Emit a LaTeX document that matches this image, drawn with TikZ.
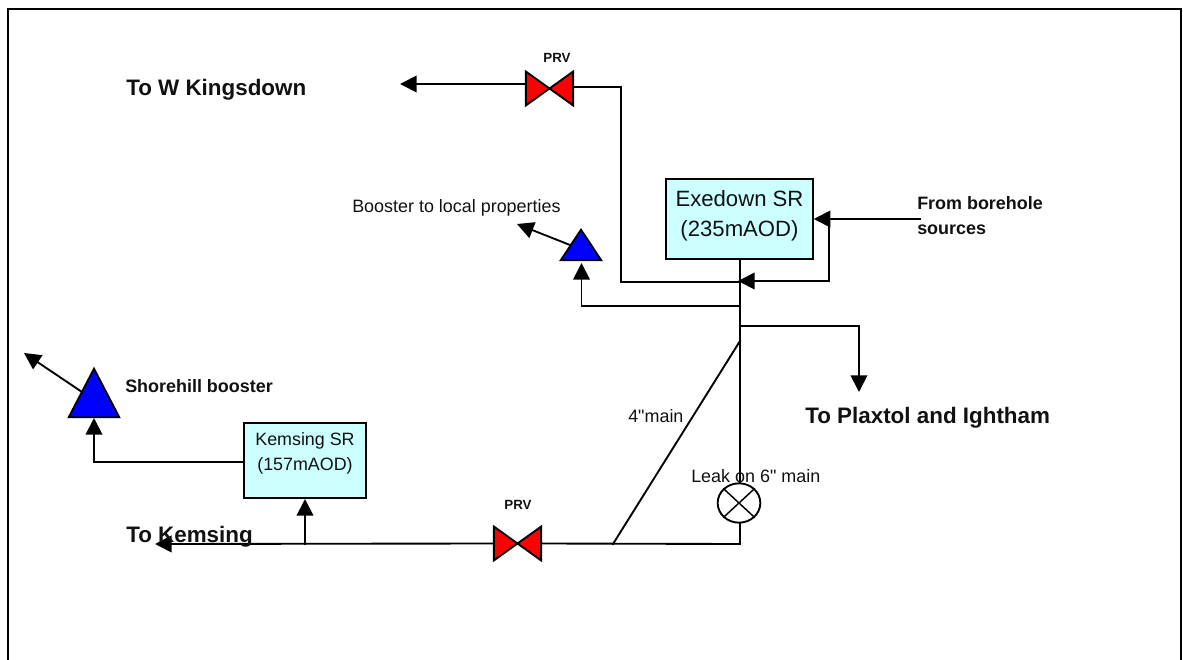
\documentclass[tikz,border=0pt]{standalone}
\usepackage{fontspec}
\setmainfont{Liberation Sans}[Ligatures=TeXOff]
\usetikzlibrary{arrows.meta,shapes.geometric}
\usepackage{xcolor}
\definecolor{tank}{HTML}{CCFFFF}
\definecolor{prv}{HTML}{FF0000}
\definecolor{booster}{HTML}{0000FF}
\definecolor{ink}{HTML}{111111}
\tikzset{
	pipe/.style={line width=1.4pt,line cap=rect,line join=miter},
	flow/.style={pipe,-{Triangle[length=12.5pt,width=12.5pt]}},
	tankbox/.style={draw,fill=tank,line width=1.4pt,inner sep=0pt,align=center,text=ink},
	valvebox/.style={inner sep=0pt,minimum width=35pt,minimum height=25pt},
	pumpbox/.style={inner sep=0pt},
	boldlabel/.style={inner sep=0pt,anchor=west,text=ink,font=\bfseries\fontsize{16.8}{20}\selectfont},
	thinlabel/.style={inner sep=0pt,anchor=west,text=ink,font=\fontsize{13.45}{16}\selectfont},
	prvlabel/.style={inner sep=0pt,text=ink,font=\bfseries\fontsize{10}{12}\selectfont},
}
\begin{document}
\begin{tikzpicture}[x=0.75pt,y=-0.75pt]
		\useasboundingbox (0,0) rectangle (1183,660);
		%
		% frame
		\draw[line width=2pt] (8,660) -- (8,9) -- (1181,9) -- (1181,660);
		%
		% reservoirs
		\node[tankbox,minimum width=110pt,minimum height=60pt,font=\fontsize{16.6}{22.5}\selectfont] (exedown) at (739.5,219) {Exedown SR\\(235mAOD)\\[-13.5pt]\mbox{}};
		\node[tankbox,minimum width=91.5pt,minimum height=56pt,font=\fontsize{13.4}{18.7}\selectfont] (kemsing) at (305,460.5) {Kemsing SR\\(157mAOD)\\[-5.2pt]\mbox{}};
		%
		% valves, boosters and the leak
		\node[valvebox] (prvW) at (549.5,88.5) {};
		\node[valvebox] (prvK) at (517.5,543.5) {};
		\node[pumpbox,minimum width=30pt,minimum height=22.5pt] (localpump) at (581,245) {};
		\node[pumpbox,minimum width=37.5pt,minimum height=36pt] (shorepump) at (94,393) {};
		\node[draw,ellipse,line width=1.4pt,inner sep=0pt,minimum width=32pt,minimum height=29.5pt] (leak) at (739,503) {};
		\draw[line width=1.1pt] (leak.north west) -- (leak.south east) (leak.north east) -- (leak.south west);
		\foreach \v in {prvW,prvK}
		{
			\draw[line width=1.4pt,fill=prv,line join=miter] (\v.north west) -- (\v.south east) -- (\v.north east) -- (\v.south west) -- cycle;
		}
		\foreach \p in {localpump,shorepump}
		{
			\draw[line width=1.4pt,fill=booster,line join=miter] (\p.north) -- (\p.south east) -- (\p.south west) -- cycle;
		}
		%
		% free ends and junctions
		\coordinate (wtip) at (400,84);
		\coordinate (wleft) at (526,84);
		\coordinate (wright) at (573,87);
		\coordinate (wbend) at (621,87);
		\coordinate (wfoot) at (621,282);
		\coordinate (main1) at (740,282);
		\coordinate (main2) at (740,306);
		\coordinate (main3) at (740,326);
		\coordinate (main4) at (740,341);
		\coordinate (main5) at (740,544);
		\coordinate (lbend) at (581.5,306);
		\coordinate (ltip) at (581.5,263);
		\coordinate (lout) at (570,245);
		\coordinate (lend) at (517,224);
		\coordinate (bore) at (920,219);
		\coordinate (boreT) at (829,219);
		\coordinate (boreB) at (829,281);
		\coordinate (boretip) at (738,281);
		\coordinate (pbend) at (859,326);
		\coordinate (ptip) at (859,392);
		\coordinate (split) at (613,544);
		\coordinate (ktee) at (305,544);
		\coordinate (ktip) at (305,499);
		\coordinate (kend) at (155,544);
		\coordinate (sbend) at (94,462);
		\coordinate (stip) at (94,418);
		\coordinate (sout) at (82,392);
		\coordinate (send) at (24,353);
		%
		% pipes
		\draw[flow] (wleft) -- (wtip);
		\draw[pipe] (wright) -- (wbend) -- (wfoot) -- (main1);
		\draw[line width=2.2pt] (exedown.south -| main3) -- (main3);
		\draw[pipe] (main3) -- (leak.north -| main3);
		\draw[pipe] (leak.south -| main5) -- (main5) -- (prvK.east);
		\draw[flow] (prvK.west) -- (kend);
		\draw[pipe] (split) -- (main4);
		\draw[flow] (main2) -- (lbend) -- (ltip);
		\draw[flow] (lout) -- (lend);
		\draw[flow] (bore) -- (exedown.east |- bore);
		\draw[flow] (boreT) -- (boreB) -- (boretip);
		\draw[flow] (main3) -- (pbend) -- (ptip);
		\draw[flow] (ktee) -- (ktip);
		\draw[flow] (kemsing.west |- sbend) -- (sbend) -- (stip);
		\draw[flow] (sout) -- (send);
		%
		% labels
		\node[boldlabel] (kingsdown) at (126,90) {To W Kingsdown};
		\node[boldlabel] (plaxtol) at (805,418) {To Plaxtol and Ightham};
		\node[boldlabel] (tokemsing) at (126,537) {To Kemsing};
		\node[thinlabel] (locallabel) at (352,208) {Booster to local properties};
		\node[thinlabel] (mainlabel) at (628,416) {4"main};
		\node[thinlabel] (leaklabel) at (691,476) {Leak on 6" main};
		\node[boldlabel,font=\bfseries\fontsize{13.45}{16}\selectfont] (shorelabel) at (125,386) {Shorehill booster};
		\node[boldlabel,font=\bfseries\fontsize{13.45}{18.7}\selectfont,align=left] (borelabel) at (917,215.5) {From borehole\\sources};
		\node[prvlabel] (prvWlabel) at (557,58) {PRV};
		\node[prvlabel] (prvKlabel) at (518,505) {PRV};
	\end{tikzpicture}
\end{document}
